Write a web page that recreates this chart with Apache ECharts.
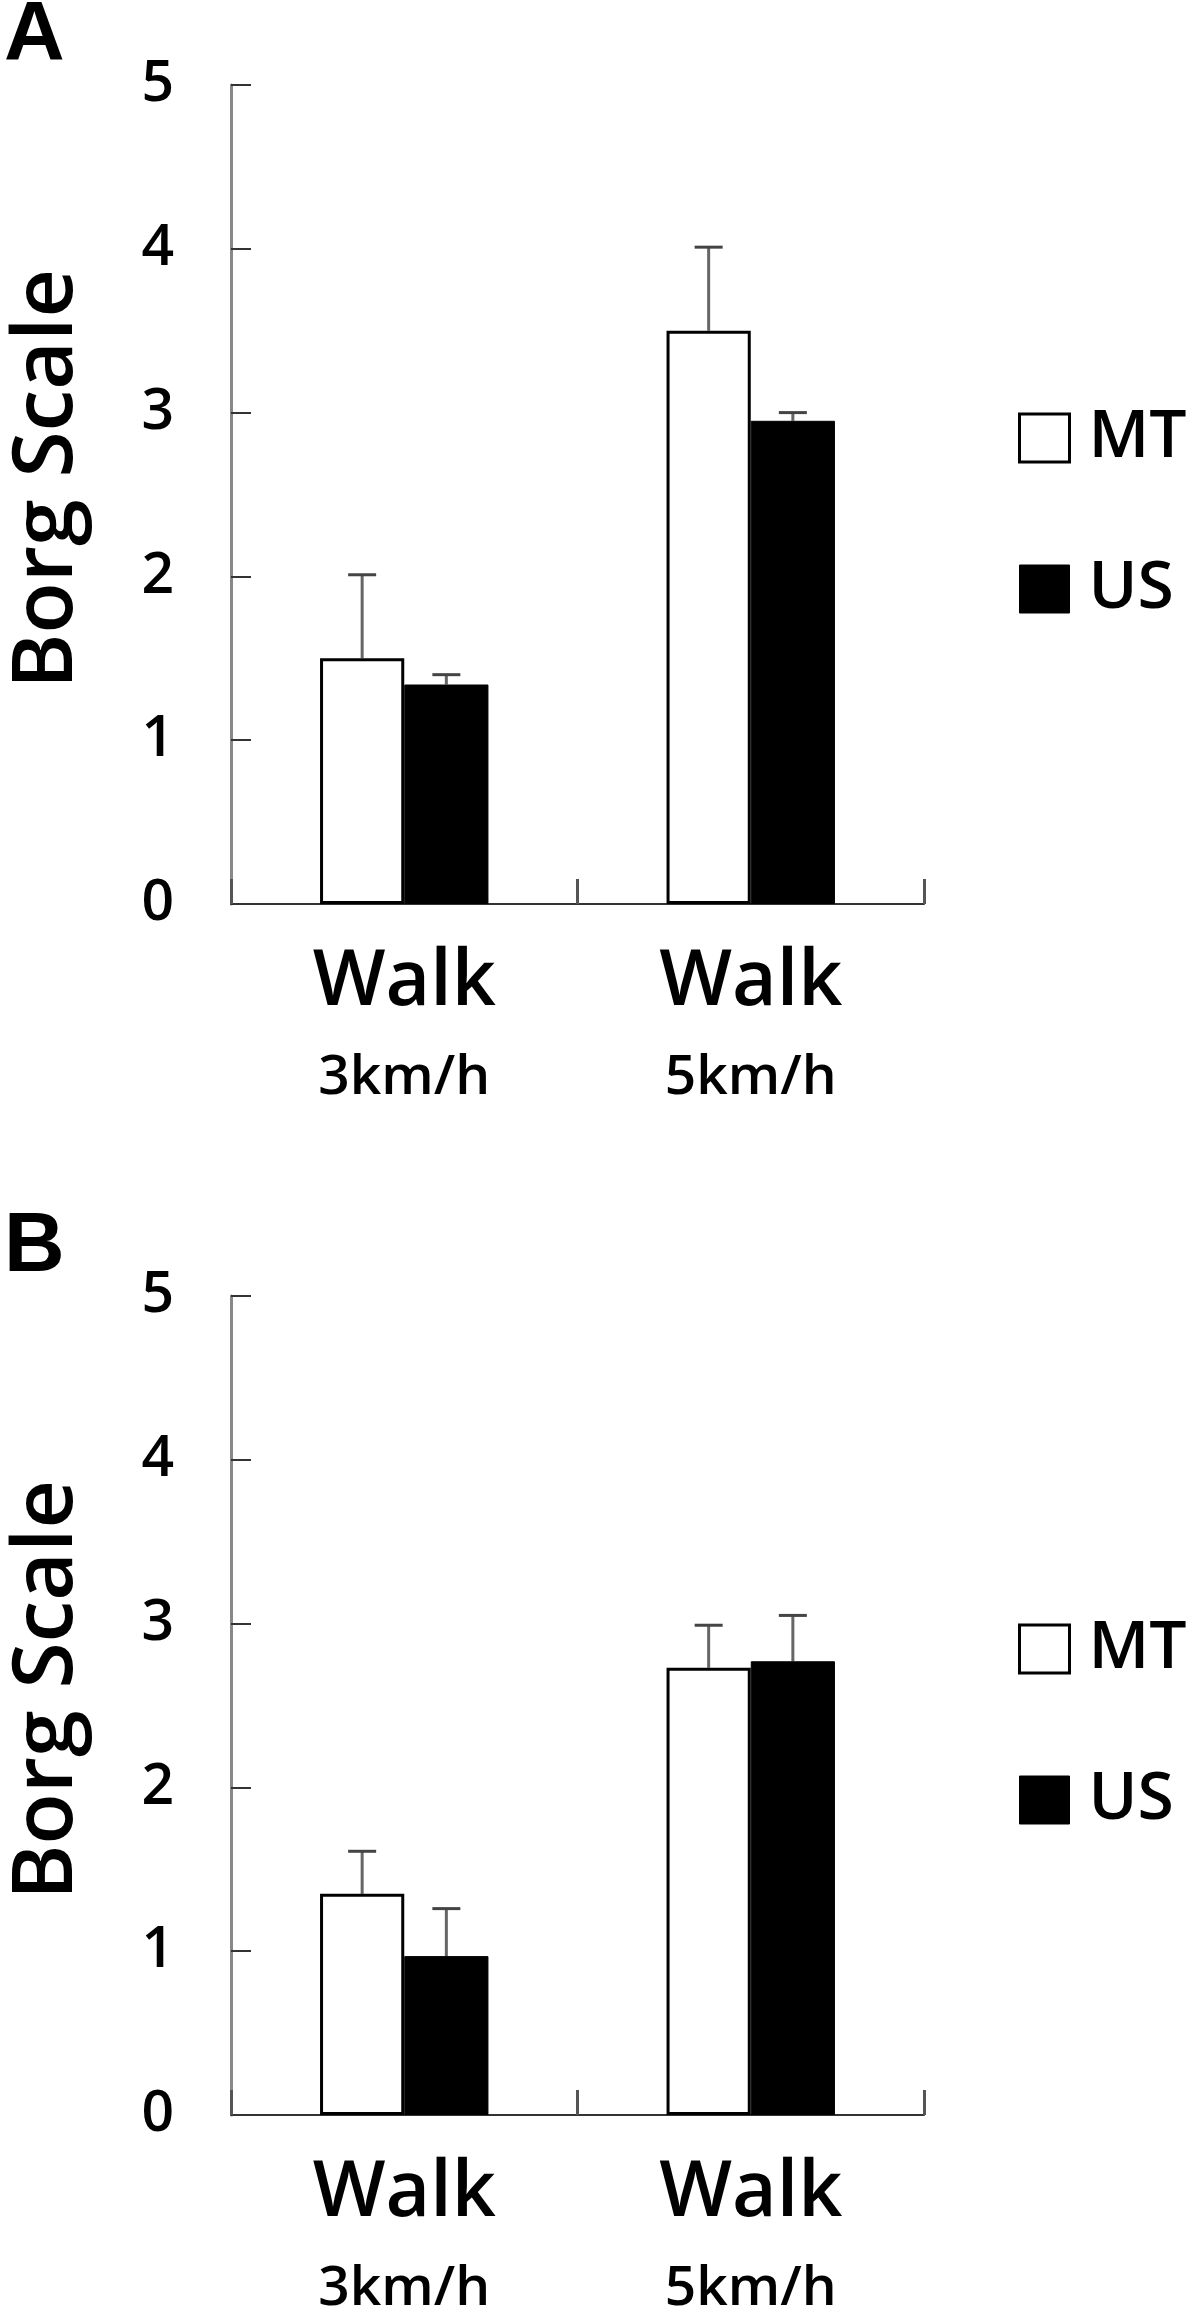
<!DOCTYPE html>
<html><head><meta charset="utf-8">
<script src="https://cdn.jsdelivr.net/npm/echarts@6/dist/echarts.min.js"></script>
<style>html,body{margin:0;padding:0;background:#fff}#c{width:1200px;height:2321px}</style>
</head><body><div id="c"></div>
<script>
// ---- data ----
const activityLabels = ['Walk', 'Walk'];
const speedLabels = ['3km/h', '5km/h'];
const seriesNames = ['MT', 'US'];
const panelLabels = ['A', 'B'];
const yMin = 0, yMax = 5, yStep = 1;
// Panel A
const mtA = [1.50, 3.50];
const mtAErr = [0.51, 0.51];
const usA = [1.34, 2.95];
const usAErr = [0.06, 0.05];
// Panel B
const mtB = [1.35, 2.73];
const mtBErr = [0.26, 0.26];
const usB = [0.97, 2.77];
const usBErr = [0.29, 0.28];

// ---- layout ----
const FONT = '"Open Sans", "Noto Sans", sans-serif';
const W = 600;
const PANEL_SHIFT = 1211;
const GRID = {left: 231, top: 85, width: 693, height: 819};
const BAR_FRAC = 0.243;

const chart = echarts.init(document.getElementById('c'), null, {renderer: 'canvas'});

function errSeries(name, vals, errs, gi, side) {
  return {
    type: 'custom', name: name + ' err', xAxisIndex: gi, yAxisIndex: gi, z: 1,
    data: vals.map((v, i) => [i, v, v + errs[i]]),
    encode: {x: 0, y: [1, 2]},
    renderItem: function (params, api) {
      const band = api.size([1, 0])[0];
      const off = side * band * BAR_FRAC / 2;
      const p0 = api.coord([api.value(0), api.value(1)]);
      const p1 = api.coord([api.value(0), api.value(2)]);
      const x = p0[0] + off;
      const cap = 14;
      return {type: 'group', children: [
        {type: 'line', shape: {x1: x, y1: p0[1], x2: x, y2: p1[1]}, style: {stroke: '#666', lineWidth: 3}},
        {type: 'line', shape: {x1: x - cap, y1: p1[1], x2: x + cap, y2: p1[1]}, style: {stroke: '#444', lineWidth: 3}}
      ]};
    }
  };
}

const panels = [
  {mt: mtA, mtErr: mtAErr, us: usA, usErr: usAErr},
  {mt: mtB, mtErr: mtBErr, us: usB, usErr: usBErr}
];

const grids = [], xAxes = [], yAxes = [], series = [], legends = [], graphics = [];
panels.forEach((p, gi) => {
  const off = gi * PANEL_SHIFT;
  grids.push({left: GRID.left, top: GRID.top + off, width: GRID.width, height: GRID.height, containLabel: false});
  xAxes.push({
    type: 'category', gridIndex: gi, data: activityLabels,
    axisLine: {lineStyle: {color: '#333', width: 2}},
    axisTick: {show: true, inside: true, length: 25, lineStyle: {color: '#555', width: 3}},
    axisLabel: {
      margin: 29, interval: 0,
      formatter: (v, i) => '{a|' + v + '}\n{b|' + speedLabels[i] + '}',
      rich: {
        a: {fontSize: 77, fontWeight: W, lineHeight: 100, fontFamily: FONT, color: '#000'},
        b: {fontSize: 55, fontWeight: W, lineHeight: 90, fontFamily: FONT, color: '#000'}
      }
    }
  });
  yAxes.push({
    type: 'value', gridIndex: gi, min: yMin, max: yMax, interval: yStep,
    splitLine: {show: false},
    axisLine: {show: true, lineStyle: {color: '#888', width: 3}},
    axisTick: {show: true, inside: true, length: 20, lineStyle: {color: '#333', width: 2}},
    axisLabel: {margin: 57, fontSize: 57, fontWeight: W, fontFamily: FONT, color: '#000'}
  });
  series.push({
    type: 'bar', name: seriesNames[0], xAxisIndex: gi, yAxisIndex: gi, data: p.mt,
    barWidth: (BAR_FRAC * 100) + '%', barGap: '0%', z: 2,
    itemStyle: {color: '#fff', borderColor: '#000', borderWidth: 3}
  });
  series.push({
    type: 'bar', name: seriesNames[1], xAxisIndex: gi, yAxisIndex: gi, data: p.us,
    barWidth: (BAR_FRAC * 100) + '%', barGap: '0%', z: 2,
    itemStyle: {color: '#000', borderColor: '#000', borderWidth: 1}
  });
  series.push(errSeries(seriesNames[0], p.mt, p.mtErr, gi, -1));
  series.push(errSeries(seriesNames[1], p.us, p.usErr, gi, 1));
  legends.push({
    orient: 'vertical', left: 1018, top: 405 + off, padding: 0,
    itemWidth: 50, itemHeight: 48, itemGap: 85, icon: 'rect',
    selectedMode: false,
    textStyle: {fontSize: 66, fontWeight: W, fontFamily: FONT, color: '#000', lineHeight: 48, padding: [8, 0, 0, 14]},
    data: [
      {name: seriesNames[0], itemStyle: {color: '#fff', borderColor: '#000', borderWidth: 3}},
      {name: seriesNames[1], itemStyle: {color: '#000', borderColor: '#000', borderWidth: 1}}
    ]
  });
  graphics.push({
    type: 'text', x: 4, y: 37 + off,
    style: {text: panelLabels[gi], fontSize: 84, fontWeight: 'bold', fontFamily: '"Liberation Sans", Arial, sans-serif',
      fill: '#000', align: 'left', verticalAlign: 'middle'}
  });
  graphics.push({
    type: 'text', x: 48, y: 479 + off, rotation: Math.PI / 2,
    style: {text: 'Borg Scale', fontSize: 84, fontWeight: W, fontFamily: FONT, fill: '#000', align: 'center', verticalAlign: 'middle'}
  });
});

chart.setOption({
  backgroundColor: '#fff',
  animation: false,
  grid: grids, xAxis: xAxes, yAxis: yAxes, series: series, legend: legends,
  graphic: graphics
});
</script></body></html>
